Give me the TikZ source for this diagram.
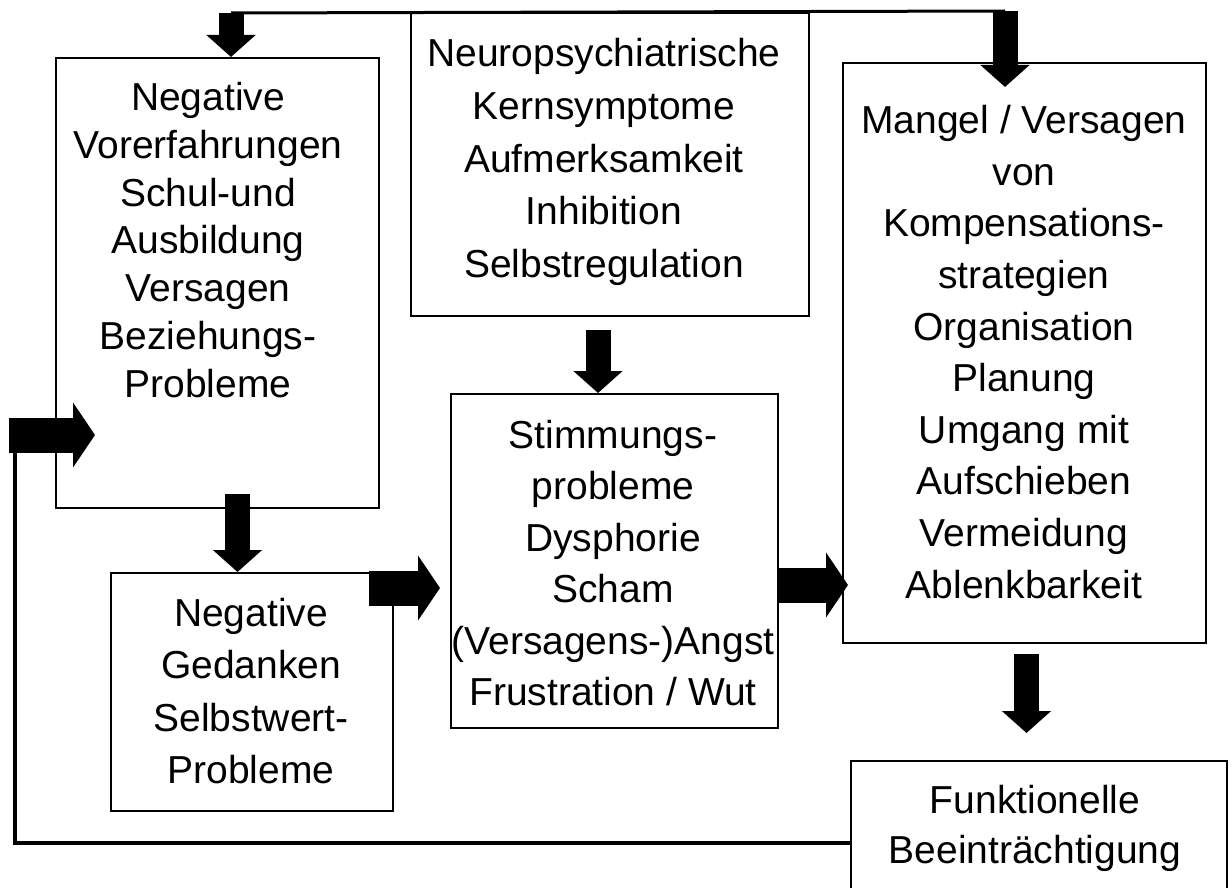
\documentclass[tikz,border=0pt]{standalone}
\usepackage{fontspec}
\setmainfont{Liberation Sans}
\usetikzlibrary{arrows.meta,calc}
\begin{document}
\begin{tikzpicture}[x=0.5pt,y=-0.5pt,
  box/.style={draw, line width=1pt, inner sep=0pt, anchor=north west},
  txt/.style={align=center, inner sep=0pt, font=\fontsize{19.5pt}{#1}\selectfont},
  txt/.default=25.8pt,
  fatv/.style={line width=12.5pt, -{Triangle[width=24pt,length=11pt]}},
  fath/.style={line width=17.5pt, -{Triangle[width=32pt,length=11pt]}},
  link/.style={line width=1.5pt},
  loopline/.style={line width=2pt}]
\clip (0,0) rectangle (1232,888);
\fill[white] (0,0) rectangle (1232,888);

% boxes
\node[box, minimum width=161.5pt, minimum height=225pt] (A) at (55,57) {};
\node[box, minimum width=199pt, minimum height=151.5pt] (B) at (410,12) {};
\node[box, minimum width=181.5pt, minimum height=290pt] (C) at (842,62) {};
\node[box, minimum width=163.5pt, minimum height=167pt] (D) at (450,393) {};
\node[box, minimum width=141pt, minimum height=119pt] (E) at (110,572) {};
\node[box, minimum width=188pt, minimum height=75pt] (F) at (850,760) {};

% texts
\node[txt=23.85pt] (tA) at (208,240) {Negative\\Vorerfahrungen\\Schul-und\\Ausbildung\\Versagen\\Beziehungs-\\Probleme};
\node[txt=26.4pt] (tB) at (604,162) {Neuropsychiatrische\\Kernsymptome\\Aufmerksamkeit\\Inhibition\\Selbstregulation};
\node[txt=25.8pt] (tC) at (1024,352) {Mangel / Versagen\\von\\Kompensations-\\strategien\\Organisation\\Planung\\Umgang mit\\Aufschieben\\Vermeidung\\Ablenkbarkeit};
\node[txt=25.7pt] (tD) at (613,563) {Stimmungs-\\probleme\\Dysphorie\\Scham\\(Versagens-)Angst\\Frustration / Wut};
\node[txt=26.3pt] (tE) at (251,691) {Negative\\Gedanken\\Selbstwert-\\Probleme};
\node[txt=25pt] (tF) at (1035,828) {Funktionelle\\Beeinträchtigung};

% top connector from B
\coordinate (ta) at (231,13);
\coordinate (tc) at (1005,11);
\draw[link] (ta) -- (tc);
\draw[fatv] (ta) -- (ta |- A.north);
\draw[fatv] (tc) -- ($(tc |- C.north)+(0,25)$);

% A -> E
\coordinate (ae) at ($(A.south)+(20,-15)$);
\draw[fatv] (ae) -- (ae |- E.north);

% B -> D
\coordinate (bd) at ($(B.south)+(-12,13)$);
\draw[fatv] (bd) -- (bd |- D.north);

% E -> D
\coordinate (ed) at ($(E.north east)+(-25,16)$);
\draw[fath] (ed) -- ($(ed -| D.west)+(-10,0)$);

% D -> C
\coordinate (dc) at ($(D.north east)+(0,192)$);
\draw[fath] (dc) -- ($(dc -| C.west)+(6,0)$);

% C -> F
\coordinate (cf) at ($(C.south)+(2,10)$);
\draw[fatv] (cf) -- ($(cf |- F.north)+(0,-27)$);

% feedback F -> A
\coordinate (f0) at ($(F.north west)+(0,83)$);
\coordinate (f1) at (15,848);
\coordinate (f2) at (15,435);
\draw[loopline] (f0) -- (f1 |- f0) -- (f2);
\draw[fath] ($(f2)+(-6,0)$) -- ($(f2 -| A.west)+(40,0)$);
\end{tikzpicture}
\end{document}
